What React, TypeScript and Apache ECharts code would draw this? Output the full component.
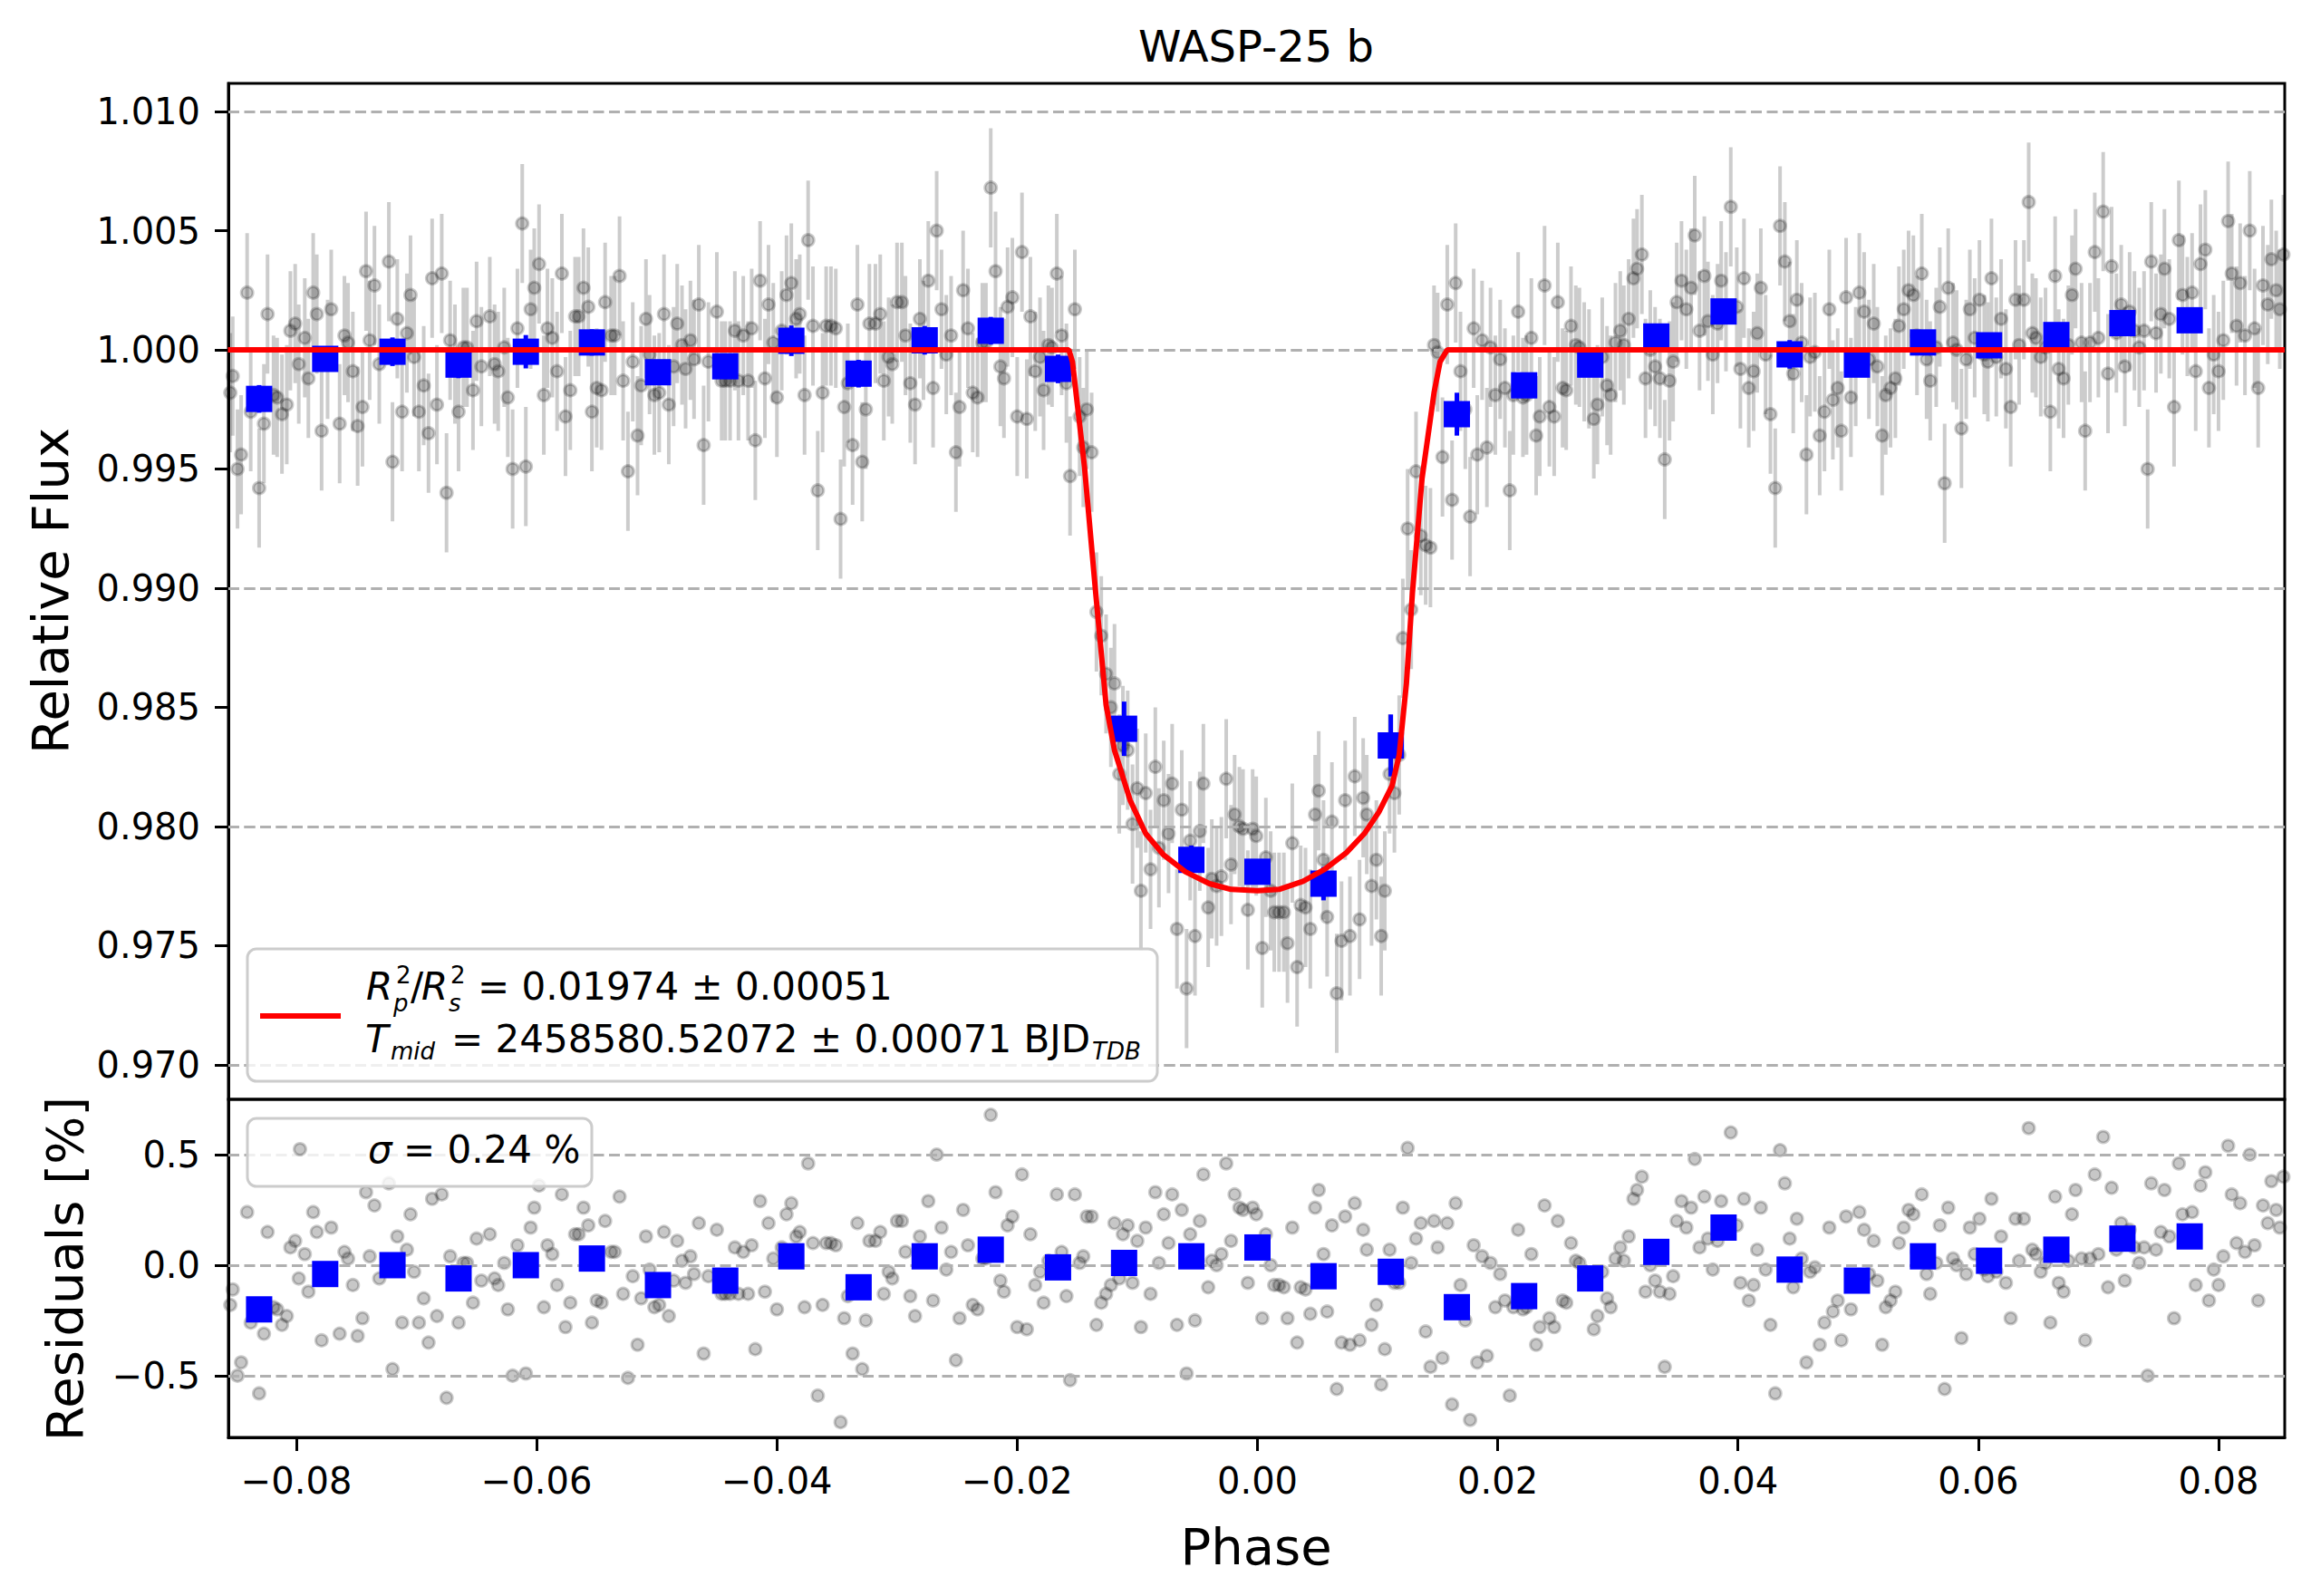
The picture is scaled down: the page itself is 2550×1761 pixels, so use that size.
import { useEffect, useRef } from "react"
import * as echarts from "echarts"

// unbinned points, phase-folded
const phase = [
  -0.0855, -0.0853, -0.0849, -0.0846, -0.0841, -0.0838, -0.0831, -0.0827, -0.0824, -0.0819,
  -0.0816, -0.0812, -0.0808, -0.0805, -0.0801, -0.0798, -0.0793, -0.079, -0.0786, -0.0783,
  -0.0779, -0.0774, -0.0771, -0.0764, -0.076, -0.0757, -0.0753, -0.0749, -0.0745, -0.0742,
  -0.0739, -0.0735, -0.0731, -0.0723, -0.072, -0.0716, -0.0712, -0.0708, -0.0705, -0.0702,
  -0.0698, -0.0694, -0.069, -0.0687, -0.0683, -0.0679, -0.0675, -0.0672, -0.0668, -0.0665,
  -0.0661, -0.0658, -0.0653, -0.065, -0.0646, -0.0639, -0.0635, -0.0632, -0.0627, -0.0624,
  -0.062, -0.0616, -0.0612, -0.0609, -0.0605, -0.0602, -0.0598, -0.0594, -0.0591, -0.0587,
  -0.0583, -0.0579, -0.0576, -0.0572, -0.0568, -0.0565, -0.0561, -0.0557, -0.0554, -0.055,
  -0.0546, -0.0543, -0.0538, -0.0535, -0.0531, -0.0528, -0.0524, -0.052, -0.0516, -0.0513,
  -0.0509, -0.0506, -0.0502, -0.0498, -0.0494, -0.049, -0.0486, -0.0483, -0.0479, -0.0476,
  -0.0472, -0.0469, -0.0465, -0.0461, -0.0457, -0.045, -0.0446, -0.0443, -0.0439, -0.0435, -0.0432,
  -0.0428, -0.0424, -0.0421, -0.0418, -0.0414, -0.041, -0.0407, -0.0403, -0.04, -0.0396,
  -0.0392, -0.0388, -0.0384, -0.0381, -0.0377, -0.0374, -0.037, -0.0366, -0.0362, -0.0359,
  -0.0355, -0.0351, -0.0347, -0.0344, -0.0341, -0.0337, -0.0333, -0.0329, -0.0326, -0.0323,
  -0.0318, -0.0314, -0.0311, -0.0307, -0.0304, -0.03, -0.0296, -0.0293, -0.0289, -0.0285,
  -0.0281, -0.0278, -0.0274, -0.027, -0.0267, -0.0263, -0.0259, -0.0255, -0.0251, -0.0248,
  -0.0245, -0.0241, -0.0237, -0.0233, -0.0229, -0.0226, -0.0222, -0.0218, -0.0214, -0.0211,
  -0.0208, -0.0204, -0.02, -0.0196, -0.0192, -0.0189, -0.0185, -0.0181, -0.0178, -0.0174,
  -0.0171, -0.0167, -0.0163, -0.0159, -0.0156, -0.0152, -0.0148, -0.0145, -0.0142, -0.0138,
  -0.0134, -0.013, -0.0126, -0.0122, -0.0119, -0.0115, -0.0112, -0.0108, -0.0104, -0.01,
  -0.0097, -0.0093, -0.0089, -0.0085, -0.0082, -0.0078, -0.0074, -0.0071, -0.0067, -0.0063,
  -0.0059, -0.0056, -0.0052, -0.0048, -0.0045, -0.0041, -0.0038, -0.0034, -0.003, -0.0026,
  -0.0022, -0.0019, -0.0015, -0.0012, -0.0008, -0.0004, -0.0001,
  0.0004, 0.0007, 0.0011, 0.0014, 0.0018, 0.0022, 0.0025, 0.0029, 0.0033, 0.0036,
  0.004, 0.0044, 0.0048, 0.0051, 0.0055, 0.0058, 0.0062, 0.0066, 0.007, 0.0073,
  0.0077, 0.0081, 0.0085, 0.0088, 0.0091, 0.0095, 0.0099, 0.0103, 0.0106, 0.011,
  0.0114, 0.0118, 0.0121, 0.0125, 0.0128, 0.0132, 0.0136, 0.014, 0.0144, 0.0147,
  0.015, 0.0154, 0.0158, 0.0162, 0.0165, 0.0169, 0.0173, 0.0177, 0.018, 0.0183,
  0.0187, 0.0191, 0.0194, 0.0198, 0.0202, 0.0206, 0.021, 0.0213, 0.0217, 0.0221,
  0.0224, 0.0228, 0.0232, 0.0235, 0.0239, 0.0243, 0.0247, 0.025, 0.0254, 0.0257,
  0.0261, 0.0265, 0.0268, 0.0272, 0.0276, 0.028, 0.0283, 0.0287, 0.0291, 0.0294,
  0.0298, 0.0302, 0.0305, 0.0309, 0.0313, 0.0316, 0.032, 0.0323, 0.0327, 0.0331,
  0.0335, 0.0339, 0.0343, 0.0346, 0.0349, 0.0353, 0.0357, 0.0361, 0.0364, 0.0368,
  0.0372, 0.0375, 0.0379, 0.0383, 0.0386, 0.039, 0.0394, 0.0399, 0.0402, 0.0405,
  0.0409, 0.0413, 0.0416, 0.0419, 0.0423, 0.0427, 0.0431,
  0.0435, 0.0439, 0.0443, 0.0446, 0.0449, 0.0453, 0.0457, 0.046, 0.0464, 0.0468,
  0.0472, 0.0476, 0.0479, 0.0483, 0.0486, 0.049, 0.0494, 0.0498, 0.0501, 0.0505,
  0.0509, 0.0513, 0.0516, 0.052, 0.0523, 0.0527, 0.0531, 0.0534, 0.0538, 0.0542,
  0.0546, 0.0549, 0.0553, 0.0557, 0.056, 0.0565, 0.0568, 0.0572, 0.0575, 0.0579,
  0.0582, 0.0586, 0.059, 0.0593, 0.0597, 0.0601, 0.0605, 0.0608, 0.0611, 0.0615,
  0.0619, 0.0623, 0.0627, 0.0631, 0.0634, 0.0638, 0.0642, 0.0645, 0.0648, 0.0652,
  0.0656, 0.066, 0.0664, 0.0667, 0.0671, 0.0675, 0.0678, 0.0681, 0.0686, 0.0689,
  0.0693, 0.0697, 0.07, 0.0704, 0.0708, 0.0711, 0.0715, 0.0719, 0.0722, 0.0726,
  0.073, 0.0734, 0.0738, 0.0741, 0.0744, 0.0748, 0.0752, 0.0755, 0.0759, 0.0763,
  0.0767, 0.077, 0.0774, 0.0778, 0.0781, 0.0785, 0.0789, 0.0792, 0.0796, 0.08,
  0.0804, 0.0808, 0.0811, 0.0815, 0.0818, 0.0822, 0.0826, 0.083, 0.0833, 0.0837,
  0.0841, 0.0844, 0.0848, 0.0851, 0.0854,
]

// relative flux minus one, in parts per thousand
const fluxPpt = [
  -1.8, -1.1, -5.0, -4.4, 2.4, -2.6, -5.8, -3.1, 1.5, -1.9,
  -2.0, -2.7, -2.3, 0.8, 1.1, -0.6, 0.5, -1.2, 2.4, 1.5,
  -3.4, -0.4, 1.7, -3.1, 0.6, 0.3, -0.9, -3.2, -2.4, 3.3,
  0.4, 2.7, -0.6, 3.7, -4.7, 1.3, -2.6, 0.7, 2.3, -0.3,
  -2.6, -1.5, -3.5, 3.0, -2.3, 3.2, -6.0, 0.4, -0.6, -2.6,
  0.1, 0.1, -1.7, 1.2, -0.7, 1.4, -0.6, -0.9, 0.1, -2.0,
  -5.0, 0.9, 5.3, -4.9, 1.7, 2.6, 3.6, -1.9, 0.9, 0.5,
  -0.9, 3.2, -2.8, -1.7, 1.4, 1.4, 2.6, 1.8, -2.6, -1.6,
  -1.7, 2.0, 0.6, 0.6, 3.1, -1.3, -5.1, -0.5, -3.6, -1.5,
  1.3, -0.2, -1.9, -1.8, 1.5, -2.3, -0.7, 1.1, 0.2, -0.8,
  0.4, -0.4, 1.9, -4.0, -0.5, 1.6, -1.3, -1.3, -1.3, 0.8, -1.3,
  0.6, -1.3, 0.9, -3.8, 2.9, -1.2, 1.9, 0.3, -2.0, 0.8,
  2.3, 2.8, 1.3, 1.5, -1.9, 4.6, 1.0, -5.9, -1.8, 1.0,
  1.0, 0.9, -7.1, -2.4, -1.4, -4.0, 1.9, -4.7, -2.5, 1.1,
  1.1, 1.5, -1.3, -0.3, -0.6, 2.0, 2.0, 0.6, -1.4, -2.3,
  1.3, 0.4, 2.9, -1.6, 5.0, 1.7, -0.2, 0.6, -4.3, -2.4,
  2.5, 0.9, -1.8, -2.0, 0.3, 0.3, 6.8, 3.3, -0.7, -1.2,
  1.8, 2.2, -2.8, 4.1, -2.9, 1.4, -0.9, -0.3, -1.7, 0.2,
  0.1, 3.2, 0.6, -1.4, -5.3, 1.7, -2.8, -4.1, -2.5, -4.3,
  -11.0, -12.0, -13.6, -15.0, -14.0, -17.8, -16.6, -16.8, -19.9, -18.4,
  -22.7, -18.6, -21.8, -17.5, -20.9, -18.9, -20.3, -18.2, -24.3, -19.3,
  -26.8, -20.6, -24.6, -20.2, -18.2, -23.4, -22.2, -22.5, -22.1, -18.0,
  -21.6, -19.5, -20.0, -20.1, -23.5, -20.1, -20.4,
  -25.1, -21.3, -22.7, -23.6, -23.6, -23.6, -24.9, -20.7, -25.9, -23.3,
  -23.4, -24.3, -19.5, -18.5, -21.4, -23.8, -19.8, -27.0, -24.8, -18.9,
  -24.6, -17.9, -23.9, -18.8, -19.5, -22.5, -21.4, -24.6, -22.7, -17.8,
  -18.6, -17.0, -12.1, -7.5, -10.9, -5.1, -7.8, -8.2, -8.3, 0.2,
  -0.1, -4.5, 1.9, -6.3, 2.8, -0.9, -2.5, -7.0, 0.9, -4.4,
  0.4, -4.1, 0.1, -1.9, -0.4, -1.6, -5.9, -1.9, 1.6, -2.0,
  -1.9, 0.5, -3.6, -2.8, 2.7, -2.4, -2.8, 2.0, -1.6, -1.7,
  1.0, 0.2, 0.1, -0.5, -0.8, -2.9, -2.3, -0.3, -1.5, -1.9,
  0.3, 0.8, 0.2, 1.3, 3.0, 3.4, 4.0, -1.2, 0.0, -0.7,
  -1.2, -4.6, -1.3, -0.5, 2.0, 2.9, 1.7, 2.6, 4.8, 0.8,
  3.1, 1.2, -0.2, 1.1, 2.9, 1.6, 6.0, 1.8, -0.8, 3.0,
  -1.6, -0.9, 0.7, 2.6, -0.2, -2.7, -5.8,
  5.2, 3.7, 1.2, -1.0, 2.1, 0.3, -4.4, -0.3, -0.1, -3.6,
  -2.6, 1.7, -2.1, -1.6, -3.4, 2.2, -2.0, -0.7, 2.4, 1.6,
  -0.4, 1.1, -0.7, -3.6, -1.9, -1.6, -1.2, 1.0, 1.7, 2.5,
  2.3, 0.6, 3.2, -0.4, -1.3, 0.1, 1.8, -5.6, 2.6, 0.3,
  0.0, -3.3, -0.4, 1.7, 0.5, 2.1, -0.2, -0.5, 3.0, -0.3,
  1.3, -0.8, -2.4, 2.1, 0.2, 2.1, 6.2, 0.7, 0.5, -0.3,
  0.1, -2.6, 3.1, -0.8, -1.2, 0.2, 2.3, 3.4, 0.3, -3.4,
  0.3, 4.1, 0.5, 5.8, -1.0, 3.5, 0.7, 1.9, -0.7, 1.6,
  0.8, 0.1, 0.8, -5.0, 3.7, 0.7, 1.5, 3.4, 1.3, -2.4,
  4.6, 2.3, 1.4, 2.4, -0.9, 3.6, 4.2, -1.6, -0.2, -0.9,
  0.4, 5.4, 3.2, 1.0, 2.8, 0.6, 5.0, 0.9, -1.6, 2.7,
  1.9, 3.8, 2.5, 1.7, 4.0,
]

// residuals in percent
const residualPct = [
  -0.18, -0.11, -0.5, -0.44, 0.24, -0.26, -0.58, -0.31, 0.15, -0.19,
  -0.2, -0.27, -0.23, 0.08, 0.11, -0.06, 0.05, -0.12, 0.24, 0.15,
  -0.34, -0.04, 0.17, -0.31, 0.06, 0.03, -0.09, -0.32, -0.24, 0.33,
  0.04, 0.27, -0.06, 0.37, -0.47, 0.13, -0.26, 0.07, 0.23, -0.03,
  -0.26, -0.15, -0.35, 0.3, -0.23, 0.32, -0.6, 0.04, -0.06, -0.26,
  0.01, 0.01, -0.17, 0.12, -0.07, 0.14, -0.06, -0.09, 0.01, -0.2,
  -0.5, 0.09, 0.53, -0.49, 0.17, 0.26, 0.36, -0.19, 0.09, 0.05,
  -0.09, 0.32, -0.28, -0.17, 0.14, 0.14, 0.26, 0.18, -0.26, -0.16,
  -0.17, 0.2, 0.06, 0.06, 0.31, -0.13, -0.51, -0.05, -0.36, -0.15,
  0.13, -0.02, -0.19, -0.18, 0.15, -0.23, -0.07, 0.11, 0.02, -0.08,
  0.04, -0.04, 0.19, -0.4, -0.05, 0.16, -0.13, -0.13, -0.13, 0.08, -0.13,
  0.06, -0.13, 0.09, -0.38, 0.29, -0.12, 0.19, 0.03, -0.2, 0.08,
  0.23, 0.28, 0.13, 0.15, -0.19, 0.46, 0.1, -0.59, -0.18, 0.1,
  0.1, 0.09, -0.71, -0.24, -0.14, -0.4, 0.19, -0.47, -0.25, 0.11,
  0.11, 0.15, -0.13, -0.03, -0.06, 0.2, 0.2, 0.06, -0.14, -0.23,
  0.13, 0.04, 0.29, -0.16, 0.5, 0.17, -0.02, 0.06, -0.43, -0.24,
  0.25, 0.09, -0.18, -0.2, 0.03, 0.03, 0.68, 0.33, -0.07, -0.12,
  0.18, 0.22, -0.28, 0.41, -0.29, 0.14, -0.09, -0.03, -0.17, 0.02,
  0.01, 0.32, 0.06, -0.14, -0.52, 0.32, 0.01, 0.04, 0.22, 0.22,
  -0.27, -0.17, -0.13, -0.09, 0.19, -0.06, 0.14, 0.18, -0.08, 0.11,
  -0.28, 0.17, -0.13, 0.33, 0.01, 0.23, 0.1, 0.32, -0.27, 0.25,
  -0.49, 0.14, -0.25, 0.2, 0.41, -0.1, 0.02, 0, 0.05, 0.46,
  0.11, 0.32, 0.26, 0.25, -0.08, 0.26, 0.23,
  -0.24, 0.14, 0, -0.09, -0.09, -0.1, -0.24, 0.17, -0.35, -0.1,
  -0.11, -0.22, 0.26, 0.34, 0.05, -0.21, 0.18, -0.56, -0.35, 0.22,
  -0.36, 0.28, -0.34, 0.16, 0.07, -0.27, -0.18, -0.54, -0.38, 0.07,
  -0.08, -0.08, 0.26, 0.53, 0.01, 0.12, 0.19, -0.3, -0.46, 0.2,
  0.08, -0.42, 0.19, -0.63, 0.28, -0.09, -0.25, -0.7, 0.09, -0.44,
  0.04, -0.41, 0.01, -0.19, -0.04, -0.16, -0.59, -0.19, 0.16, -0.2,
  -0.19, 0.05, -0.36, -0.28, 0.27, -0.24, -0.28, 0.2, -0.16, -0.17,
  0.1, 0.02, 0.01, -0.05, -0.08, -0.29, -0.23, -0.03, -0.15, -0.19,
  0.03, 0.08, 0.02, 0.13, 0.3, 0.34, 0.4, -0.12, 0, -0.07,
  -0.12, -0.46, -0.13, -0.05, 0.2, 0.29, 0.17, 0.26, 0.48, 0.08,
  0.31, 0.12, -0.02, 0.11, 0.29, 0.16, 0.6, 0.18, -0.08, 0.3,
  -0.16, -0.09, 0.07, 0.26, -0.02, -0.27, -0.58,
  0.52, 0.37, 0.12, -0.1, 0.21, 0.03, -0.44, -0.03, -0.01, -0.36,
  -0.26, 0.17, -0.21, -0.16, -0.34, 0.22, -0.2, -0.07, 0.24, 0.16,
  -0.04, 0.11, -0.07, -0.36, -0.19, -0.16, -0.12, 0.1, 0.17, 0.25,
  0.23, 0.06, 0.32, -0.04, -0.13, 0.01, 0.18, -0.56, 0.26, 0.03,
  0, -0.33, -0.04, 0.17, 0.05, 0.21, -0.02, -0.05, 0.3, -0.03,
  0.13, -0.08, -0.24, 0.21, 0.02, 0.21, 0.62, 0.07, 0.05, -0.03,
  0.01, -0.26, 0.31, -0.08, -0.12, 0.02, 0.23, 0.34, 0.03, -0.34,
  0.03, 0.41, 0.05, 0.58, -0.1, 0.35, 0.07, 0.19, -0.07, 0.16,
  0.08, 0.01, 0.08, -0.5, 0.37, 0.07, 0.15, 0.34, 0.13, -0.24,
  0.46, 0.23, 0.14, 0.24, -0.09, 0.36, 0.42, -0.16, -0.02, -0.09,
  0.04, 0.54, 0.32, 0.1, 0.28, 0.06, 0.5, 0.09, -0.16, 0.27,
  0.19, 0.38, 0.25, 0.17, 0.4,
]

const fluxErr = 0.0025

// binned points
const binPhase = [
  -0.0831, -0.0776, -0.072, -0.0665, -0.0609, -0.0554, -0.0499, -0.0443, -0.0388, -0.0332,
  -0.0277, -0.0222, -0.0166, -0.0111, -0.0055, 0.0, 0.0055, 0.0111, 0.0166, 0.0222,
  0.0277, 0.0332, 0.0388, 0.0443, 0.0499, 0.0554, 0.0609, 0.0665, 0.072, 0.0776,
]
const binFlux = [
  0.99794, 0.99962, 0.99992, 0.99938, 0.99992, 1.00031, 0.99906, 0.99931, 1.00038, 0.9990,
  1.0004, 1.0008, 0.9992, 0.9841, 0.9786, 0.9781, 0.9776, 0.9834, 0.9973, 0.99851,
  0.99938, 1.00056, 1.00161, 0.99981, 0.99938, 1.00031, 1.00019, 1.00062, 1.00112, 1.00124,
]
const binFluxErr = [
  0.00058, 0.00052, 0.0006, 0.00057, 0.0007, 0.00055, 0.00052, 0.00053, 0.00064, 0.00058,
  0.0006, 0.00058, 0.0006, 0.00114, 0.0006, 0.0005, 0.0007, 0.0013, 0.0009, 0.0005,
  0.0005, 0.0005, 0.0005, 0.0006, 0.0005, 0.0005, 0.0005, 0.0005, 0.0005, 0.0005,
]
const binResidualPct = [
  -0.2, -0.04, 0.0, -0.06, 0.0, 0.03, -0.09, -0.07, 0.04, -0.1,
  0.04, 0.07, -0.01, 0.01, 0.04, 0.08, -0.05, -0.03, -0.19, -0.14,
  -0.06, 0.06, 0.17, -0.02, -0.07, 0.04, 0.02, 0.07, 0.12, 0.13,
]

// transit model
const modelPhase = [
  -0.0857, -0.0157, -0.0154, -0.0149, -0.0144, -0.0135, -0.0126, -0.0119, -0.0114, -0.0106,
  -0.0093, -0.0078, -0.006, -0.004, -0.0022, 0.0, 0.0018, 0.0038, 0.0056, 0.0074,
  0.0089, 0.0101, 0.0112, 0.0118, 0.0124, 0.0129, 0.0137, 0.0147, 0.0152, 0.0158, 0.0855,
]
const modelFlux = [
  1.0, 1.0, 0.9995, 0.9973, 0.9951, 0.99, 0.9851, 0.9832, 0.9824, 0.9811,
  0.9797, 0.9788, 0.9781, 0.9776, 0.97736, 0.97731, 0.97736, 0.9777, 0.9782, 0.9789,
  0.9797, 0.9806, 0.9817, 0.983, 0.986, 0.9898, 0.9946, 0.9982, 0.9995, 1.0, 1.0,
]

const phaseTicks = [-0.08, -0.06, -0.04, -0.02, 0, 0.02, 0.04, 0.06, 0.08]
const fluxTicks = [0.97, 0.975, 0.98, 0.985, 0.99, 0.995, 1.0, 1.005, 1.01]
const residualTicks = [-0.5, 0, 0.5]

const FONT = "DejaVu Sans"
const X_MIN = -0.08566
const X_MAX = 0.08551

const signed = (digits: number) => (v: number) =>
  (v < -1e-9 ? "\u2212" : "") + Math.abs(v).toFixed(digits)

export default function App() {
  const chartRef = useRef<HTMLDivElement>(null)

  useEffect(() => {
    if (!chartRef.current) return
    document.body.style.margin = "0"

    const chart = echarts.init(chartRef.current, null, { renderer: "svg" })

    const n = Math.min(phase.length, fluxPpt.length, residualPct.length)
    const points: number[][] = []
    const residuals: number[][] = []
    for (let i = 0; i < n; i++) {
      points.push([phase[i], 1 + fluxPpt[i] / 1000, fluxErr])
      residuals.push([phase[i], residualPct[i]])
    }
    const bins = binPhase.map((p, i) => [p, binFlux[i], binFluxErr[i]])
    const binRes = binPhase.map((p, i) => [p, binResidualPct[i]])
    const model = modelPhase.map((p, i) => [p, modelFlux[i]])

    const errorBars = (color: string, width: number) => (_params: any, api: any) => {
      const x = api.value(0)
      const y = api.value(1)
      const e = api.value(2)
      const a = api.coord([x, y + e])
      const b = api.coord([x, y - e])
      return {
        type: "line",
        shape: { x1: a[0], y1: a[1], x2: b[0], y2: b[1] },
        style: { stroke: color, lineWidth: width },
      }
    }

    const gridLines = (xi: number, ticks: number[]) => ({
      type: "line",
      xAxisIndex: xi,
      yAxisIndex: xi,
      data: [],
      silent: true,
      z: 1,
      markLine: {
        silent: true,
        symbol: ["none", "none"],
        label: { show: false },
        emphasis: { disabled: true },
        lineStyle: { color: "#b0b0b0", width: 3, type: [12, 5.5] },
        data: ticks.map((v) => ({ yAxis: v })),
      },
    })

    const greyDot = {
      color: "rgba(0,0,0,0.22)",
      borderColor: "rgba(0,0,0,0.2)",
      borderWidth: 3,
      opacity: 1,
    }
    const blueSquare = { color: "#0000ff", opacity: 1 }

    const tickStyle = { show: true, length: 15, lineStyle: { color: "#000", width: 3 } }
    const labelStyle = { color: "#000", fontSize: 40, fontFamily: FONT }

    const txt = (x: number, y: number, text: string, size: number, extra: any = {}) => ({
      type: "text",
      x,
      y,
      z: 100,
      silent: true,
      ...extra,
      style: {
        text,
        fontSize: size,
        fontFamily: FONT,
        fill: "#000",
        align: "left",
        verticalAlign: "middle",
        ...(extra.style || {}),
      },
    })
    const italic = { style: { fontStyle: "italic" } }
    const main = (x: number, y: number, text: string, it = false) =>
      txt(x, y, text, 42, { style: { fontStyle: it ? "italic" : "normal", lineHeight: 34 } })
    const script = (x: number, y: number, text: string, it: boolean) =>
      txt(x, y, text, 26, { style: { fontStyle: it ? "italic" : "normal", lineHeight: 20 } })

    const option: any = {
      animation: false,
      textStyle: { fontFamily: FONT },
      grid: [
        { left: 252, top: 92, width: 2269, height: 1121, show: true, borderColor: "#000", borderWidth: 3, backgroundColor: "transparent", outerBoundsMode: "none" },
        { left: 252, top: 1213, width: 2269, height: 373, show: true, borderColor: "#000", borderWidth: 3, backgroundColor: "transparent", outerBoundsMode: "none" },
      ],
      xAxis: [
        { type: "value", gridIndex: 0, min: X_MIN, max: X_MAX, show: false, splitLine: { show: false } },
        {
          type: "value",
          gridIndex: 1,
          min: X_MIN,
          max: X_MAX,
          axisLine: { show: true, onZero: false, lineStyle: { color: "#000", width: 3 } },
          axisTick: { ...tickStyle, customValues: phaseTicks },
          axisLabel: { ...labelStyle, customValues: phaseTicks, margin: 28, lineHeight: 40, formatter: signed(2) },
          splitLine: { show: false },
        },
      ],
      yAxis: [
        {
          type: "value",
          gridIndex: 0,
          min: 0.96855,
          max: 1.01118,
          axisLine: { show: true, onZero: false, lineStyle: { color: "#000", width: 3 } },
          axisTick: { ...tickStyle, customValues: fluxTicks },
          axisLabel: { ...labelStyle, customValues: fluxTicks, margin: 31, formatter: (v: number) => v.toFixed(3) },
          splitLine: { show: false },
        },
        {
          type: "value",
          gridIndex: 1,
          min: -0.779,
          max: 0.75,
          axisLine: { show: true, onZero: false, lineStyle: { color: "#000", width: 3 } },
          axisTick: { ...tickStyle, customValues: residualTicks },
          axisLabel: { ...labelStyle, customValues: residualTicks, margin: 31, formatter: signed(1) },
          splitLine: { show: false },
        },
      ],
      series: [
        gridLines(0, fluxTicks),
        gridLines(1, residualTicks),
        {
          type: "custom",
          xAxisIndex: 0,
          yAxisIndex: 0,
          data: points,
          encode: { x: 0, y: 1 },
          renderItem: errorBars("rgba(0,0,0,0.2)", 4),
          silent: true,
          z: 2,
        },
        {
          type: "scatter",
          xAxisIndex: 0,
          yAxisIndex: 0,
          data: points,
          symbol: "circle",
          symbolSize: 13,
          itemStyle: greyDot,
          silent: true,
          z: 3,
        },
        {
          type: "custom",
          xAxisIndex: 0,
          yAxisIndex: 0,
          data: bins,
          encode: { x: 0, y: 1 },
          renderItem: errorBars("#0000ff", 5),
          silent: true,
          z: 4,
        },
        {
          type: "scatter",
          xAxisIndex: 0,
          yAxisIndex: 0,
          data: bins,
          symbol: "rect",
          symbolSize: 29,
          itemStyle: blueSquare,
          silent: true,
          z: 5,
        },
        {
          type: "line",
          xAxisIndex: 0,
          yAxisIndex: 0,
          data: model,
          symbol: "none",
          showSymbol: false,
          lineStyle: { color: "#ff0000", width: 6 },
          silent: true,
          z: 6,
        },
        {
          type: "scatter",
          xAxisIndex: 1,
          yAxisIndex: 1,
          data: residuals,
          symbol: "circle",
          symbolSize: 13,
          itemStyle: greyDot,
          silent: true,
          z: 3,
        },
        {
          type: "scatter",
          xAxisIndex: 1,
          yAxisIndex: 1,
          data: binRes,
          symbol: "rect",
          symbolSize: 29,
          itemStyle: blueSquare,
          silent: true,
          z: 5,
        },
      ],
      graphic: [
        txt(1386, 51, "WASP-25 b", 48, { style: { align: "center" } }),
        txt(1386, 1706, "Phase", 56, { style: { align: "center" } }),
        txt(55, 652, "Relative Flux", 56, { rotation: Math.PI / 2, style: { align: "center" } }),
        txt(71, 1400, "Residuals [%]", 56, { rotation: Math.PI / 2, style: { align: "center" } }),

        // upper legend
        {
          type: "rect",
          z: 99,
          silent: true,
          shape: { x: 273, y: 1047, width: 1004, height: 146, r: 10 },
          style: { fill: "rgba(255,255,255,0.8)", stroke: "#cccccc", lineWidth: 3 },
        },
        {
          type: "line",
          z: 100,
          silent: true,
          shape: { x1: 287, y1: 1121, x2: 376, y2: 1121 },
          style: { stroke: "#ff0000", lineWidth: 6 },
        },
        main(404, 1088, "R", true),
        script(437, 1076, "2", false),
        script(434, 1107, "p", true),
        main(453, 1088, "/"),
        main(465, 1088, "R", true),
        script(497, 1076, "2", false),
        script(495, 1107, "s", true),
        main(527, 1088, "= 0.01974 \u00b1 0.00051"),
        main(403, 1146, "T", true),
        script(431, 1160, "mid", true),
        main(498, 1146, "= 2458580.52072 \u00b1 0.00071 BJD"),
        script(1205, 1160, "TDB", true),

        // lower legend
        {
          type: "rect",
          z: 99,
          silent: true,
          shape: { x: 273, y: 1234, width: 380, height: 75, r: 10 },
          style: { fill: "rgba(255,255,255,0.8)", stroke: "#cccccc", lineWidth: 3 },
        },
        {
          type: "circle",
          z: 100,
          silent: true,
          shape: { cx: 331, cy: 1268, r: 6.5 },
          style: { fill: "rgba(0,0,0,0.22)", stroke: "rgba(0,0,0,0.2)", lineWidth: 3 },
        },
        txt(406, 1268, "\u03c3", 42, italic),
        txt(445, 1268, "= 0.24 %", 42),
      ],
    }

    chart.setOption(option)

    return () => {
      chart.dispose()
    }
  }, [])

  return <div ref={chartRef} style={{ width: 2550, height: 1761 }} />
}
